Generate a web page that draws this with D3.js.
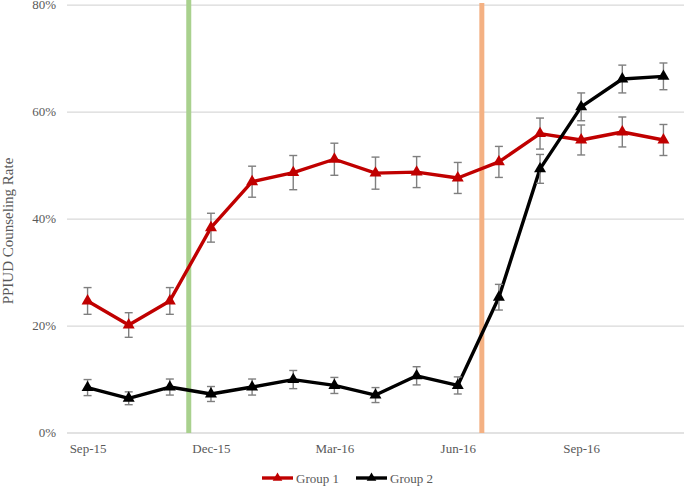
<!DOCTYPE html>
<html>
<head>
<meta charset="utf-8">
<script src="https://cdn.jsdelivr.net/npm/d3@7"></script>
<style>
body { margin: 0; background: #fff; }
svg { display: block; font-family: "Liberation Serif", "DejaVu Serif", serif; }
</style>
</head>
<body>
<svg id="chart" width="685" height="486"></svg>
<script>
// monthly categories
var months = ["Sep-15","Oct-15","Nov-15","Dec-15","Jan-16","Feb-16","Mar-16","Apr-16","May-16","Jun-16","Jul-16","Aug-16","Sep-16","Oct-16","Nov-16"];
var tickMonths = ["Sep-15","Dec-15","Mar-16","Jun-16","Sep-16"];
var yTicks = [0, 0.2, 0.4, 0.6, 0.8];

// rates in percent, with half-width of the error bar
var group1 = [24.6, 20.1, 24.6, 38.3, 46.9, 48.6, 51.1, 48.5, 48.7, 47.6, 50.6, 55.9, 54.7, 56.2, 54.7];
var group1Err = [2.5, 2.3, 2.5, 2.7, 2.9, 3.2, 3.0, 3.0, 2.9, 2.9, 2.9, 2.9, 2.8, 2.8, 2.9];
var group2 = [8.4, 6.4, 8.5, 7.2, 8.5, 9.9, 8.8, 7.0, 10.6, 8.8, 25.3, 49.3, 60.9, 66.1, 66.6];
var group2Err = [1.5, 1.2, 1.5, 1.4, 1.5, 1.7, 1.5, 1.4, 1.7, 1.6, 2.4, 2.7, 2.6, 2.6, 2.5];

// intervention markers, as position along the month index
var interventions = [2.46, 9.585];
var interventionColors = ["#a9d18e", "#f4b183"];

var svg = d3.select("#chart");
var plotLeft = 67, plotRight = 684, plotTop = 4.7, plotBottom = 432.5;

var x = d3.scaleLinear().domain([-0.5, months.length - 0.5]).range([plotLeft, plotRight]);
var y = d3.scaleLinear().domain([0, 0.8]).range([plotBottom, plotTop]);

function styleAxis(g) {
	g.attr("font-family", null).attr("font-size", null);
	g.select(".domain").remove();
	g.selectAll("text").attr("fill", "#595959").style("font-size", "13px");
}

// gridlines
svg.append("g")
	.attr("transform", "translate(" + plotLeft + ",0)")
	.call(d3.axisLeft(y).tickValues(yTicks).tickSize(-(plotRight - plotLeft)).tickFormat(""))
	.call(function(g) {
		g.select(".domain").remove();
		g.selectAll("line").attr("stroke", "#d9d9d9").attr("stroke-width", 1.3);
	});

// y labels
svg.append("g")
	.attr("transform", "translate(56,0)")
	.call(d3.axisLeft(y).tickValues(yTicks).tickSize(0).tickPadding(0).tickFormat(d3.format(".0%")))
	.call(styleAxis);

// x labels
svg.append("g")
	.attr("transform", "translate(0," + plotBottom + ")")
	.call(d3.axisBottom(x).tickValues(tickMonths.map(function(m) { return months.indexOf(m); }))
		.tickSize(0).tickPadding(11).tickFormat(function(i) { return months[i]; }))
	.call(styleAxis);

// y title
svg.append("text")
	.attr("transform", "translate(13,231) rotate(-90)")
	.attr("text-anchor", "middle")
	.attr("fill", "#595959")
	.attr("font-size", 15)
	.text("PPIUD Counseling Rate");

// intervention lines
svg.selectAll(".intervention")
	.data(interventions)
	.enter()
	.append("line")
	.attr("x1", function(d) { return x(d); })
	.attr("x2", function(d) { return x(d); })
	.attr("y1", function(d, i) { return i == 0 ? 0 : 3; })
	.attr("y2", plotBottom + 0.5)
	.attr("stroke", function(d, i) { return interventionColors[i]; })
	.attr("stroke-width", 5);

var triangle = d3.symbol().type(d3.symbolTriangle).size(62);
var line = d3.line()
	.x(function(d, i) { return x(i); })
	.y(function(d) { return y(d / 100); });

function drawSeries(values, errs, color) {
	var g = svg.append("g");
	g.append("path")
		.datum(values)
		.attr("d", line)
		.attr("fill", "none")
		.attr("stroke", color)
		.attr("stroke-width", 3.4)
		.attr("stroke-linejoin", "round");

	var bars = g.selectAll(".err")
		.data(values)
		.enter()
		.append("g")
		.attr("stroke", "#7f7f7f")
		.attr("stroke-width", 1.4);
	bars.append("line")
		.attr("x1", function(d, i) { return x(i); })
		.attr("x2", function(d, i) { return x(i); })
		.attr("y1", function(d, i) { return y((d + errs[i]) / 100); })
		.attr("y2", function(d, i) { return y((d - errs[i]) / 100); });
	bars.append("line")
		.attr("x1", function(d, i) { return x(i) - 4; })
		.attr("x2", function(d, i) { return x(i) + 4; })
		.attr("y1", function(d, i) { return y((d + errs[i]) / 100); })
		.attr("y2", function(d, i) { return y((d + errs[i]) / 100); });
	bars.append("line")
		.attr("x1", function(d, i) { return x(i) - 4; })
		.attr("x2", function(d, i) { return x(i) + 4; })
		.attr("y1", function(d, i) { return y((d - errs[i]) / 100); })
		.attr("y2", function(d, i) { return y((d - errs[i]) / 100); });

	g.selectAll(".mark")
		.data(values)
		.enter()
		.append("path")
		.attr("d", triangle)
		.attr("transform", function(d, i) { return "translate(" + x(i) + "," + y(d / 100) + ")"; })
		.attr("fill", color);
}

drawSeries(group1, group1Err, "#c00000");
drawSeries(group2, group2Err, "#000000");

// legend
var legendItems = [
	{name: "Group 1", color: "#c00000", x: 262},
	{name: "Group 2", color: "#000000", x: 356}
];
var legend = svg.selectAll(".legend")
	.data(legendItems)
	.enter()
	.append("g")
	.attr("transform", function(d) { return "translate(" + d.x + ",478)"; });
legend.append("line")
	.attr("x1", 0).attr("x2", 31)
	.attr("stroke", function(d) { return d.color; })
	.attr("stroke-width", 3.4);
legend.append("path")
	.attr("d", d3.symbol().type(d3.symbolTriangle).size(40))
	.attr("transform", "translate(15.5,0)")
	.attr("fill", function(d) { return d.color; });
legend.append("text")
	.attr("x", 34)
	.attr("dy", "0.35em")
	.attr("fill", "#595959")
	.attr("font-size", 13)
	.text(function(d) { return d.name; });
</script>
</body>
</html>
